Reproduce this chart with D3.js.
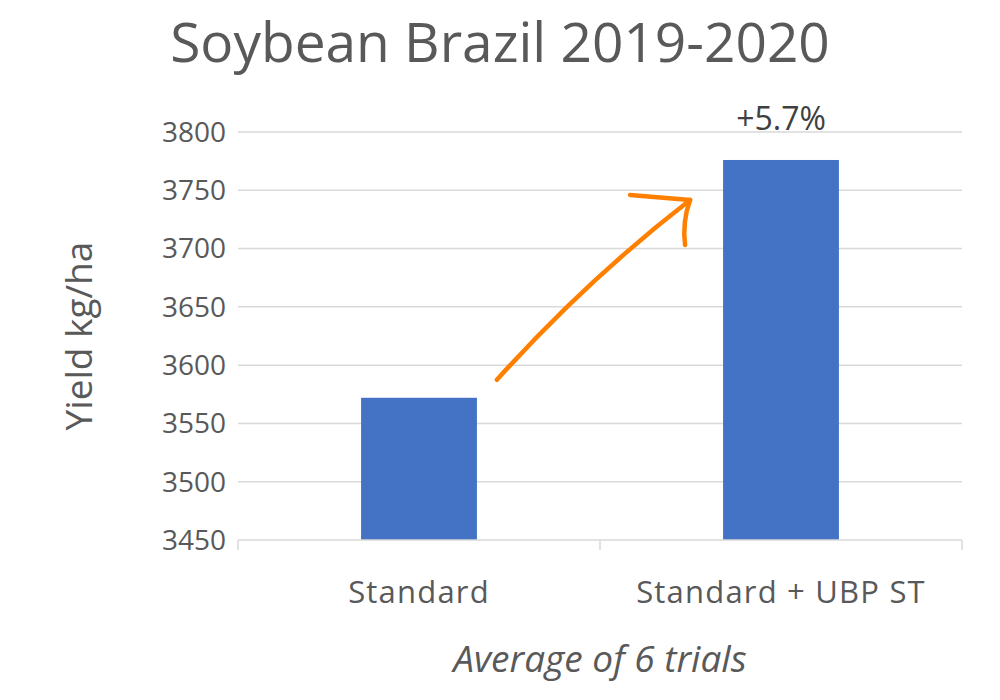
<!DOCTYPE html>
<html>
<head>
<meta charset="utf-8">
<script src="https://cdn.jsdelivr.net/npm/d3@7"></script>
<style>
  body { margin: 0; background: #fff; }
  text { font-family: "Open Sans", "Noto Sans", sans-serif; fill: #595959; }
</style>
</head>
<body>
<div id="chart"></div>
<script>
// data
var categories = ["Standard", "Standard + UBP ST"];
var yields = [3572, 3776];
var yTicks = [3450, 3500, 3550, 3600, 3650, 3700, 3750, 3800];
var increaseLabel = "+5.7%";

var width = 1000, height = 700;
var margin = {top: 132, right: 38, bottom: 160, left: 238};

var svg = d3.select("#chart").append("svg")
  .attr("width", width)
  .attr("height", height);

var x = d3.scaleBand()
  .domain(categories)
  .range([margin.left, width - margin.right])
  .paddingInner(0.68)
  .paddingOuter(0.34);

var y = d3.scaleLinear()
  .domain([3450, 3800])
  .range([height - margin.bottom, margin.top]);

// gridlines
svg.append("g")
  .selectAll("line")
  .data(yTicks.slice(1))
  .enter().append("line")
  .attr("x1", margin.left)
  .attr("x2", width - margin.right)
  .attr("y1", function(d) { return y(d); })
  .attr("y2", function(d) { return y(d); })
  .style("stroke", "#d9d9d9")
  .style("stroke-width", 1.5);

// y tick labels
svg.append("g")
  .selectAll("text")
  .data(yTicks)
  .enter().append("text")
  .attr("x", margin.left - 12)
  .attr("y", function(d) { return y(d); })
  .attr("dy", "0.35em")
  .attr("text-anchor", "end")
  .style("font-size", "28px")
  .text(function(d) { return d; });

// bars
svg.append("g")
  .selectAll("rect")
  .data(yields)
  .enter().append("rect")
  .attr("x", function(d, i) { return x(categories[i]); })
  .attr("y", function(d) { return y(d); })
  .attr("width", x.bandwidth())
  .attr("height", function(d) { return y(3450) - y(d); })
  .style("fill", "#4472c4");

// category axis
var base = y(3450);
svg.append("line")
  .attr("x1", margin.left).attr("x2", width - margin.right)
  .attr("y1", base).attr("y2", base)
  .style("stroke", "#d9d9d9").style("stroke-width", 1.5);

var tickXs = [margin.left, margin.left + (width - margin.left - margin.right) / 2, width - margin.right];
svg.append("g").selectAll("line")
  .data(tickXs)
  .enter().append("line")
  .attr("x1", function(d) { return d; }).attr("x2", function(d) { return d; })
  .attr("y1", base).attr("y2", base + 10)
  .style("stroke", "#d9d9d9").style("stroke-width", 1.5);

svg.append("g").selectAll("text")
  .data(categories)
  .enter().append("text")
  .attr("x", function(d) { return x(d) + x.bandwidth() / 2; })
  .attr("y", 603)
  .attr("text-anchor", "middle")
  .style("font-size", "31px")
  .style("letter-spacing", "1.2px")
  .text(function(d) { return d; });

// value label on second bar
svg.append("text")
  .attr("x", x(categories[1]) + x.bandwidth() / 2)
  .attr("y", y(yields[1]) - 30)
  .attr("text-anchor", "middle")
  .style("font-size", "32px")
  .style("fill", "#404040")
  .text(increaseLabel);

// title
svg.append("text")
  .attr("x", 500).attr("y", 62)
  .attr("text-anchor", "middle")
  .style("font-size", "55px")
  .text("Soybean Brazil 2019-2020");

// axis titles
svg.append("text")
  .attr("transform", "translate(92," + ((margin.top + base) / 2) + ") rotate(-90)")
  .attr("text-anchor", "middle")
  .style("font-size", "37px")
  .text("Yield kg/ha");

svg.append("text")
  .attr("x", 600).attr("y", 672)
  .attr("text-anchor", "middle")
  .style("font-size", "37px")
  .style("font-style", "italic")
  .text("Average of 6 trials");

// orange arrow
var x0 = x(categories[0]) + x.bandwidth() + 20, y0 = y(yields[0]) - 18;
var x1 = x(categories[1]) - 33, y1 = y(yields[1]) + 40;
svg.append("path")
  .attr("d", "M" + x0 + "," + y0 + " Q" + (x0 + 90) + "," + (y0 - 100) + " " + x1 + "," + y1)
  .style("fill", "none")
  .style("stroke", "#ff7f00")
  .style("stroke-width", 4.5)
  .style("stroke-linecap", "round");
svg.append("path")
  .attr("d", "M" + (x1 - 60) + "," + (y1 - 5) + " Q" + (x1 - 25) + "," + (y1 - 2) + " " + x1 + "," + y1
    + " Q" + (x1 - 8) + "," + (y1 + 22) + " " + (x1 - 5) + "," + (y1 + 45))
  .style("fill", "none")
  .style("stroke", "#ff7f00")
  .style("stroke-width", 4.5)
  .style("stroke-linecap", "round")
  .style("stroke-linejoin", "round");
</script>
</body>
</html>
